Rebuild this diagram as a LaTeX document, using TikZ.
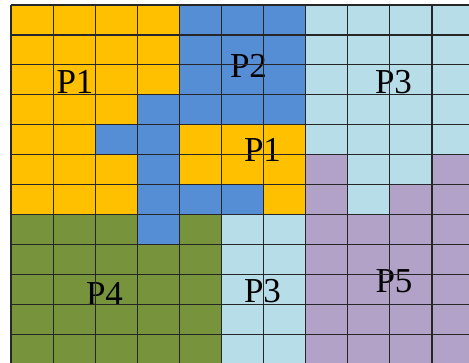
\documentclass[tikz,border=0pt]{standalone}
\usepackage{fontspec}
\setmainfont{Liberation Serif}
\usepackage{tikz}

\definecolor{cY}{HTML}{FFC000}
\definecolor{cB}{HTML}{558ED5}
\definecolor{cL}{HTML}{B7DEE8}
\definecolor{cG}{HTML}{77933C}
\definecolor{cP}{HTML}{B3A2C7}

\tikzset{
  gridline/.style={line width=1.1pt, draw=black!85},
  plabel/.style={anchor=base, inner sep=0pt, font=\fontsize{35}{35}\selectfont}
}

\begin{document}
\begin{tikzpicture}[x=1pt, y=-1pt]
  \useasboundingbox (0,0) rectangle (469,362);
  \clip (0,0) rectangle (469,362);
  \fill[white] (0,0) rectangle (469,362);

  % Cells, one row per list
  \begin{scope}[shift={(11,5)}]
    \foreach \cells [count=\ri from 0] in {
      {Y,Y,Y,Y,B,B,B,L,L,L,L},
      {Y,Y,Y,Y,B,B,B,L,L,L,L},
      {Y,Y,Y,Y,B,B,B,L,L,L,L},
      {Y,Y,Y,B,B,B,B,L,L,L,L},
      {Y,Y,B,B,Y,Y,Y,L,L,L,L},
      {Y,Y,Y,B,Y,Y,Y,P,L,L,P},
      {Y,Y,Y,B,B,B,Y,P,L,P,P},
      {G,G,G,B,G,L,L,P,P,P,P},
      {G,G,G,G,G,L,L,P,P,P,P},
      {G,G,G,G,G,L,L,P,P,P,P},
      {G,G,G,G,G,L,L,P,P,P,P},
      {G,G,G,G,G,L,L,P,P,P,P}}{
      \foreach \cc [count=\ci from 0] in \cells
        \fill[c\cc] (\ci*42.1, \ri*29.95) rectangle ++(42.1, 29.95);
    }
  \end{scope}

  % Partition labels
  \node[plabel] (p1a) at (75, 93) {P1};
  \node[plabel] (p2) at (248.5, 77) {P2};
  \node[plabel] (p3a) at (393.5, 93) {P3};
  \node[plabel] (p1b) at (262.5, 161) {P1};
  \node[plabel] (p4) at (104.5, 305) {P4};
  \node[plabel] (p3b) at (262.5, 302) {P3};
  \node[plabel] (p5) at (394, 292) {P5};

  % Grid lines
  \foreach \i in {0,...,11}
    \draw[gridline] (11+\i*42.1, 5) -- (11+\i*42.1, 370);
  \foreach \j in {0,...,12}
    \draw[gridline] (11, 5+\j*29.95) -- (480, 5+\j*29.95);
\end{tikzpicture}
\end{document}
